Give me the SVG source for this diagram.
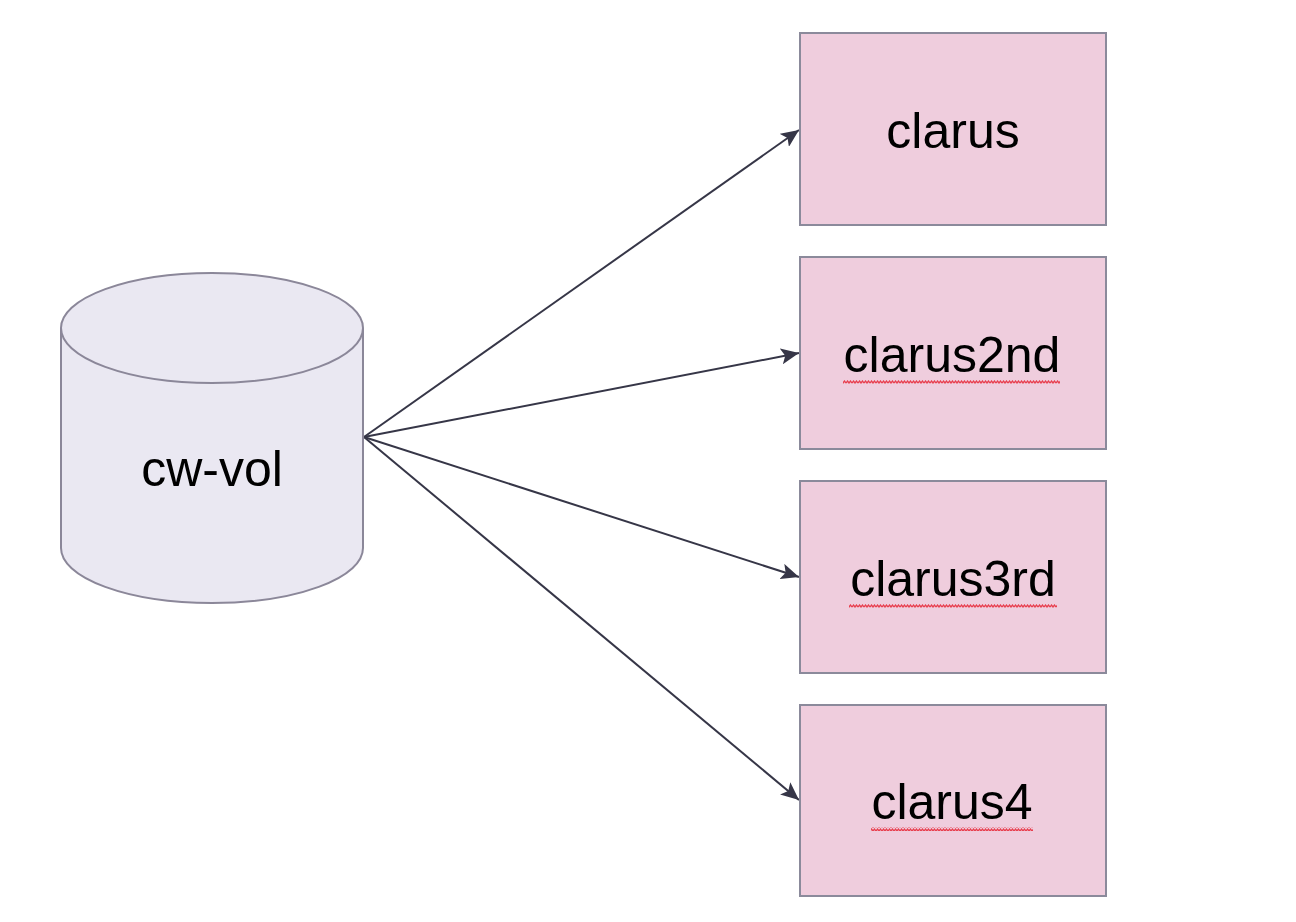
<svg xmlns="http://www.w3.org/2000/svg" width="1296" height="922" viewBox="0 0 1296 922">
<defs>
<style>
.box{fill:#efcddd;stroke:#8b8a9b;stroke-width:2}
.cyl{fill:#eae8f2;stroke:#8b8799;stroke-width:2}
.lbl{font-family:"Liberation Sans",Arial,sans-serif;font-size:50px;fill:#000;text-anchor:middle}
.edge{stroke:#363647;stroke-width:2;fill:none;marker-end:url(#ah)}
</style>
<marker id="ah" viewBox="0 0 18 16" refX="18" refY="8" markerWidth="18" markerHeight="16" markerUnits="userSpaceOnUse" orient="auto">
<path d="M0,0 L18,8 L0,16 L4,8 Z" fill="#363647"/>
</marker>
<pattern id="wave" width="6" height="4" patternUnits="userSpaceOnUse">
<path d="M0,3 L1.5,1 L3,3 L4.5,1 L6,3" fill="none" stroke="#e8404f" stroke-width="1.3"/>
</pattern>
</defs>
<rect width="1296" height="922" fill="#fff"/>
<g id="connectors">
<line class="edge" x1="364" y1="437" x2="799" y2="130"/>
<line class="edge" x1="364" y1="437" x2="799" y2="353"/>
<line class="edge" x1="364" y1="437" x2="799" y2="577"/>
<line class="edge" x1="364" y1="437" x2="799" y2="800"/>
</g>
<g id="cw-vol">
<path class="cyl" d="M61,328 L61,548 A151,55 0 0 0 363,548 L363,328 A151,55 0 0 0 61,328 Z"/>
<path class="cyl" d="M61,328 A151,55 0 0 0 363,328" fill="none"/>
<text class="lbl" x="212" y="486">cw-vol</text>
</g>
<g id="clarus">
<rect class="box" x="800" y="33" width="306" height="192"/>
<text class="lbl" x="953" y="148">clarus</text>
</g>
<g id="clarus2nd">
<rect class="box" x="800" y="257" width="306" height="192"/>
<text class="lbl" x="952" y="372">clarus2nd</text>
<rect x="843" y="380" width="217" height="4" fill="url(#wave)"/>
</g>
<g id="clarus3rd">
<rect class="box" x="800" y="481" width="306" height="192"/>
<text class="lbl" x="953" y="596">clarus3rd</text>
<rect x="849" y="604" width="208" height="4" fill="url(#wave)"/>
</g>
<g id="clarus4">
<rect class="box" x="800" y="705" width="306" height="191"/>
<text class="lbl" x="952" y="819">clarus4</text>
<rect x="871" y="827" width="162" height="4" fill="url(#wave)"/>
</g>
</svg>
